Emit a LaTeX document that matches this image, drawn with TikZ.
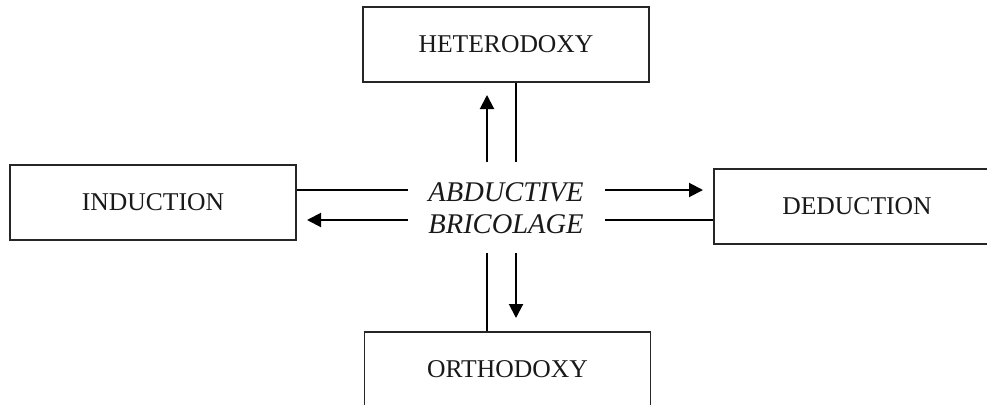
\documentclass[tikz,border=0pt]{standalone}
\usepackage{fontspec}
\setmainfont{Liberation Serif}
\usetikzlibrary{arrows.meta}
\begin{document}
\begin{tikzpicture}[x=1pt,y=-1pt,
  box/.style={draw=black!85, line width=1.2pt, minimum width=286pt,
    minimum height=75pt, inner sep=0pt, text=black!90,
    font=\fontsize{25.6}{30}\selectfont},
  link/.style={line width=2pt, draw=black},
  tip/.style={-{Triangle[length=14pt,width=14pt]}}]
\useasboundingbox (0,0) rectangle (987,404);

% the four boxes
\node[box] (het) at (506,44.5)  {HETERODOXY};
\node[box] (ort) at (507.5,369.5) {ORTHODOXY};
\node[box] (ind) at (153,202.5) {INDUCTION};
\node[box] (ded) at (857,206.5) {DEDUCTION};

% centre label
\node[font=\fontsize{28.5}{32}\selectfont\itshape, align=center, text=black!90,
  inner sep=0pt] (abd) at (506,208.5) {ABDUCTIVE\\BRICOLAGE};

% line ends around the centre label
\coordinate (u1) at (487,162);
\coordinate (u2) at (487,95);
\coordinate (d1) at (516,162);
\coordinate (b1) at (487,253);
\coordinate (b2) at (516,253);
\coordinate (b3) at (516,318);
\coordinate (l1) at (408,190);
\coordinate (l2) at (408,220);
\coordinate (l3) at (307,220);
\coordinate (r1) at (605,190);
\coordinate (r2) at (703,190);
\coordinate (r3) at (605,220);

% vertical connectors
\draw[link,tip] (u1) -- (u2);
\draw[link] (d1) -- (d1 |- het.south);
\draw[link] (b1) -- (b1 |- ort.north);
\draw[link,tip] (b2) -- (b3);

% horizontal connectors
\draw[link] (l1 -| ind.east) -- (l1);
\draw[link,tip] (l2) -- (l3);
\draw[link,tip] (r1) -- (r2);
\draw[link] (r3) -- (r3 -| ded.west);
\end{tikzpicture}
\end{document}
